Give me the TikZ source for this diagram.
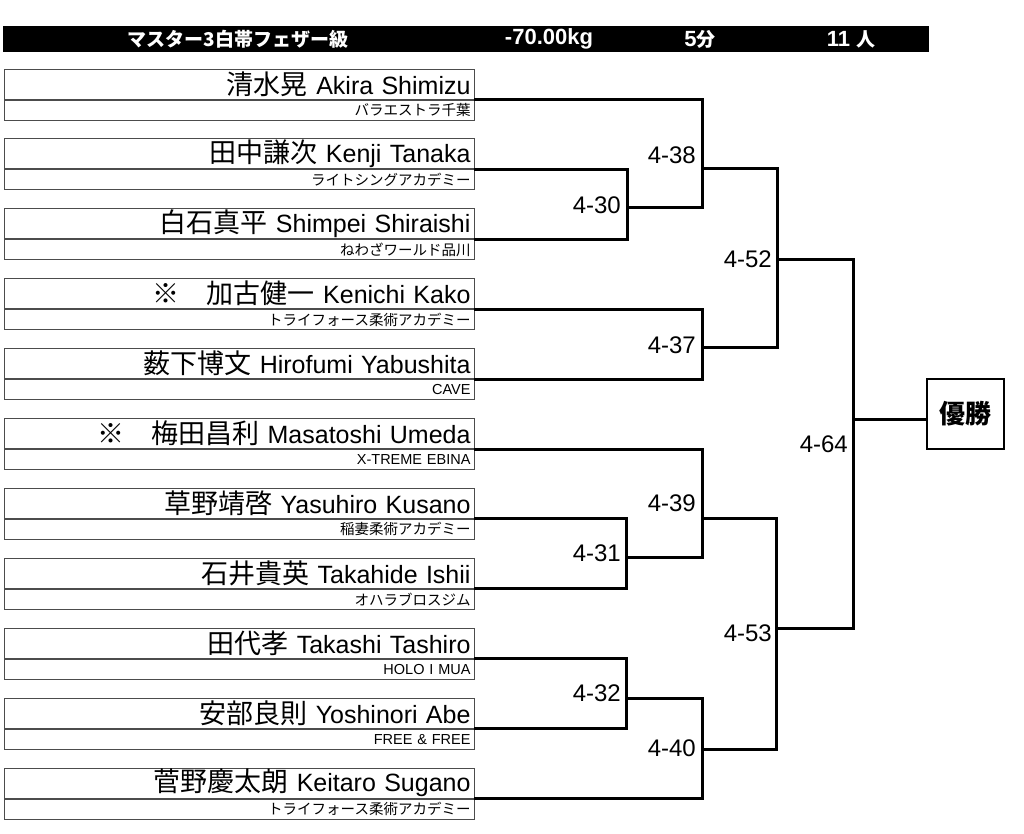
\documentclass[tikz,border=0pt]{standalone}
\usepackage{fontspec}
\setmainfont{Liberation Sans}
\newfontfamily\jp{Noto Sans CJK JP}[Scale=1.08]
\newfontfamily\jps{Noto Sans CJK JP}
\begin{document}
\begin{tikzpicture}[x=1pt,y=-1pt]
\tikzset{
  namecell/.style={draw=black!70, line width=1pt, inner xsep=4pt, inner ysep=0pt,
    text width=462pt, align=right, minimum height=30pt,
    font=\fontsize{25}{27}\selectfont},
  clubcell/.style={draw=black!70, line width=1pt, inner xsep=4pt, inner ysep=0pt,
    text width=462pt, align=right, minimum height=20pt,
    font=\fontsize{14.5}{16}\selectfont},
  bracket/.style={line width=3pt, line cap=rect, line join=miter},
  score/.style={anchor=east, inner sep=0pt, font=\fontsize{24}{26}\selectfont},
  headtext/.style={text=white, inner sep=0pt, font=\bfseries\fontsize{22}{24}\selectfont},
}
\useasboundingbox (0,0) rectangle (1024,833);

% header bar
\node[fill=black, anchor=north west, inner sep=0pt, minimum width=926pt, minimum height=26pt] (bar) at (3,26) {};
\node[headtext] (h1) at (238,39) {\jps\fontsize{19}{21}\selectfont\bfseries マスター3白帯フェザー級};
\node[headtext] (h2) at (549,39) {-70.00kg};
\node[headtext] (h3) at (700,39) {5{\jps\fontsize{19}{21}\selectfont\bfseries 分}};
\node[headtext] (h4) at (851,39) {11 {\jps\fontsize{19}{21}\selectfont\bfseries 人}};

% players
\foreach \i/\name/\club in {
  1/{\jp 清水晃} Akira Shimizu/{\jps バラエストラ千葉},
  2/{\jp 田中謙次} Kenji Tanaka/{\jps ライトシングアカデミー},
  3/{\jp 白石真平} Shimpei Shiraishi/{\jps ねわざワールド品川},
  4/{\jp ※　加古健一} Kenichi Kako/{\jps トライフォース柔術アカデミー},
  5/{\jp 薮下博文} Hirofumi Yabushita/CAVE,
  6/{\jp ※　梅田昌利} Masatoshi Umeda/X-TREME EBINA,
  7/{\jp 草野靖啓} Yasuhiro Kusano/{\jps 稲妻柔術アカデミー},
  8/{\jp 石井貴英} Takahide Ishii/{\jps オハラブロスジム},
  9/{\jp 田代孝} Takashi Tashiro/HOLO I MUA,
  10/{\jp 安部良則} Yoshinori Abe/FREE \& FREE,
  11/{\jp 菅野慶太朗} Keitaro Sugano/{\jps トライフォース柔術アカデミー}}{
  \pgfmathsetmacro\dv{99.5+69.9*(\i-1)}
  \node[namecell, anchor=south west] (p\i a) at (4,\dv) {\name};
  \node[clubcell, anchor=north west] (p\i c) at (4,\dv) {\club};
}

% winner box
\node[draw, line width=2pt, minimum width=77pt, minimum height=70pt,
  font=\fontsize{26}{28}\selectfont\jps\bfseries] (win) at (965.5,414) {優勝};

% match points
\coordinate (m30) at (627,207);
\coordinate (m38) at (702,168);
\coordinate (m37) at (702,347);
\coordinate (m52) at (777,259);
\coordinate (m31) at (626,557);
\coordinate (m39) at (702,518);
\coordinate (m32) at (626,698);
\coordinate (m40) at (702,749);
\coordinate (m53) at (776,628);
\coordinate (m64) at (853,419);

% brackets
\draw[bracket] (p2a.south east) -| (m30 |- p3a.south east) -- (p3a.south east);
\draw[bracket] (m30) -- (m30 -| m38);
\draw[bracket] (p1a.south east) -| (m38 |- m30);
\draw[bracket] (m38) -- (m38 -| m52);
\draw[bracket] (p4a.south east) -| (m37 |- p5a.south east) -- (p5a.south east);
\draw[bracket] (m37) -- (m37 -| m52);
\draw[bracket] (m52 |- m38) -- (m52 |- m37);
\draw[bracket] (m52) -- (m52 -| m64);
\draw[bracket] (p7a.south east) -| (m31 |- p8a.south east) -- (p8a.south east);
\draw[bracket] (m31) -- (m31 -| m39);
\draw[bracket] (p6a.south east) -| (m39 |- m31);
\draw[bracket] (m39) -- (m39 -| m53);
\draw[bracket] (p9a.south east) -| (m32 |- p10a.south east) -- (p10a.south east);
\draw[bracket] (m32) -- (m32 -| m40);
\draw[bracket] (m40 |- m32) -- (m40 |- p11a.south east) -- (p11a.south east);
\draw[bracket] (m40) -- (m40 -| m53);
\draw[bracket] (m53 |- m39) -- (m53 |- m40);
\draw[bracket] (m53) -- (m53 -| m64);
\draw[bracket] (m64 |- m52) -- (m64 |- m53);
\draw[bracket] (m64) -- (m64 -| win.west);

% match labels
\node[score] (l30) at (621,205) {4-30};
\node[score] (l38) at (696,155) {4-38};
\node[score] (l37) at (696,345) {4-37};
\node[score] (l52) at (772,259) {4-52};
\node[score] (l64) at (848,444) {4-64};
\node[score] (l31) at (621,553) {4-31};
\node[score] (l39) at (696,503) {4-39};
\node[score] (l32) at (621,693) {4-32};
\node[score] (l40) at (696,748) {4-40};
\node[score] (l53) at (772,633) {4-53};
\end{tikzpicture}
\end{document}
